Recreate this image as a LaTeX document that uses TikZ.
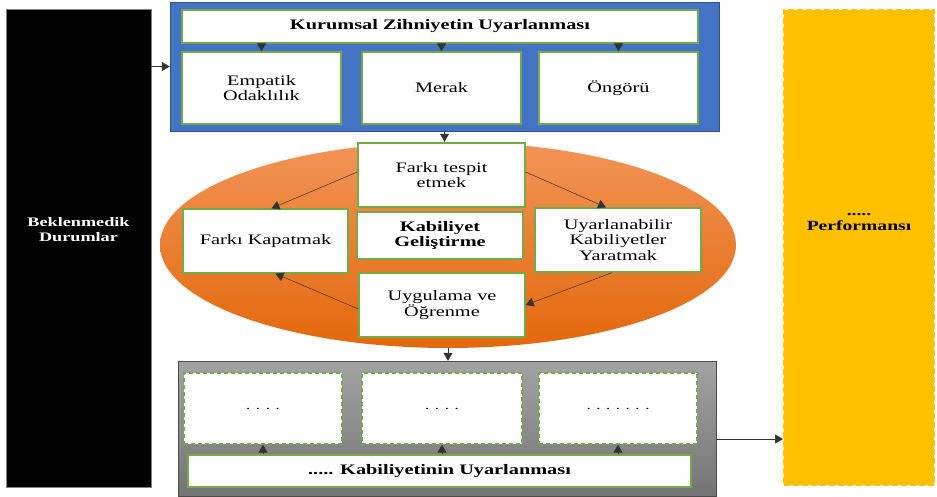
\documentclass[tikz,border=0pt]{standalone}
\usepackage{fontspec}
\setmainfont[FakeStretch=1.4]{Liberation Serif}
\usetikzlibrary{arrows.meta,positioning,shapes.geometric,calc}
\definecolor{zihinblue}{HTML}{4472C4}
\definecolor{zihinedge}{HTML}{2F528F}
\definecolor{boxgreen}{HTML}{70AD47}
\definecolor{perfyellow}{HTML}{FFC000}
\definecolor{orangetop}{HTML}{F29457}
\definecolor{orangebot}{HTML}{E3680C}
\definecolor{graytop}{HTML}{A3A3A3}
\definecolor{graybot}{HTML}{747474}
\definecolor{arrowgray}{gray}{0.2}

\begin{document}
\begin{tikzpicture}[
  x=1pt, y=-1pt,
  every node/.style={font=\fontsize{14.5}{15.5}\selectfont},
  inbox/.style={draw=boxgreen, line width=1.3pt, fill=white, align=center, inner sep=2pt},
  dotbox/.style={inbox, dash pattern=on 4pt off 3pt},
  arr/.style={-{Triangle[length=8pt,width=9pt]}, color=arrowgray, line width=0.7pt},
]
  \useasboundingbox (0,0) rectangle (937,497);

  % left and right columns
  \node[fill=black, draw=gray, minimum width=145pt, minimum height=478pt] (durum) at (78.5,248) {};
  \node[text=white, font=\bfseries\fontsize{13}{15}\selectfont, align=center] (durumtext)
    at ([yshift=18pt]durum.center) {Beklenmedik\\Durumlar};

  \node[fill=perfyellow, draw=perfyellow, line width=2pt, dash pattern=on 6pt off 3pt,
    minimum width=150pt, minimum height=475pt] (perf) at (859,247.5) {};
  \node[font=\bfseries\fontsize{14}{15}\selectfont, align=center] (perftext)
    at ([yshift=25pt]perf.center) {.....\\Performansı};

  % kurumsal zihniyet
  \node[fill=zihinblue, draw=zihinedge, minimum width=549pt, minimum height=129pt] (zihin) at (444.5,66.5) {};
  \node[inbox, minimum width=516pt, minimum height=33pt, font=\bfseries\fontsize{14.5}{15}\selectfont] (kurum) at (440,26.5)
    {Kurumsal Zihniyetin Uyarlanması};
  \node[inbox, minimum width=159pt, minimum height=72pt] (empatik) at (261.5,88) {Empatik\\Odaklılık};
  \node[inbox, minimum width=159pt, minimum height=72pt] (merak) at (441.5,88) {Merak};
  \node[inbox, minimum width=159pt, minimum height=72pt] (ongoru) at (618.5,88) {Öngörü};

  \draw[arr] (kurum.south -| empatik.north) -- (empatik.north);
  \draw[arr] (kurum.south -| merak.north) -- (merak.north);
  \draw[arr] (kurum.south -| ongoru.north) -- (ongoru.north);
  \draw[arr] (durum.east |- zihin.west) -- (zihin.west);

  % kabiliyet gelistirme
  \node[ellipse, minimum width=576pt, minimum height=206pt, top color=orangetop, bottom color=orangebot] (elips) at (448,245) {};
  \node[inbox, minimum width=167pt, minimum height=64pt] (tespit) at (441.5,175) {Farkı tespit\\etmek};
  \node[inbox, minimum width=166pt, minimum height=47pt, font=\bfseries\fontsize{14.5}{15.5}\selectfont] (gelis) at (440,235.5)
    {Kabiliyet\\Geliştirme};
  \node[inbox, minimum width=165pt, minimum height=64pt] (kapat) at (265.5,241) {Farkı Kapatmak};
  \node[inbox, minimum width=166pt, minimum height=64pt] (yarat) at (618,240) {Uyarlanabilir\\Kabiliyetler\\Yaratmak};
  \node[inbox, minimum width=166pt, minimum height=64pt] (uygula) at (442,305) {Uygulama ve\\Öğrenme};

  \draw[arr] (zihin.south) -- (zihin.south |- elips.north);
  \draw[arr, line width=0.5pt] ([yshift=3pt]tespit.west) -- ([xshift=6pt]kapat.north);
  \draw[arr, line width=0.5pt] ([yshift=3pt]tespit.east) -- ([xshift=-12pt]yarat.north);
  \draw[arr, line width=0.5pt] ([xshift=-6pt]yarat.south) -- (uygula.east);
  \draw[arr, line width=0.5pt] ([yshift=-4pt]uygula.west) -- ([xshift=10pt]kapat.south);

  % kabiliyetin uyarlanmasi
  \node[top color=graytop, bottom color=graybot, draw=black!70, minimum width=538pt, minimum height=135pt] (uyar) at (447,428.5) {};
  \node[dotbox, minimum width=158pt, minimum height=71pt, font=\fontsize{12}{12}\selectfont] (bos1) at (263,408.5) {. . . .};
  \node[dotbox, minimum width=160pt, minimum height=71pt, font=\fontsize{12}{12}\selectfont] (bos2) at (442,408.5) {. . . .};
  \node[dotbox, minimum width=158pt, minimum height=71pt, font=\fontsize{12}{12}\selectfont] (bos3) at (618,408.5) {. . . . . . .};
  \node[inbox, minimum width=503pt, minimum height=32pt, font=\bfseries\fontsize{14.5}{15}\selectfont] (kabil) at (439.5,471)
    {..... Kabiliyetinin Uyarlanması};

  \draw[arr] (elips.south) -- (elips.south |- uyar.north);
  \draw[arr] (kabil.north -| bos1.south) -- (bos1.south);
  \draw[arr] (kabil.north -| bos2.south) -- (bos2.south);
  \draw[arr] (kabil.north -| bos3.south) -- (bos3.south);

  \coordinate (cikis) at (0,439);
  \draw[arr] (uyar.east |- cikis) -- (perf.west |- cikis);
\end{tikzpicture}
\end{document}
